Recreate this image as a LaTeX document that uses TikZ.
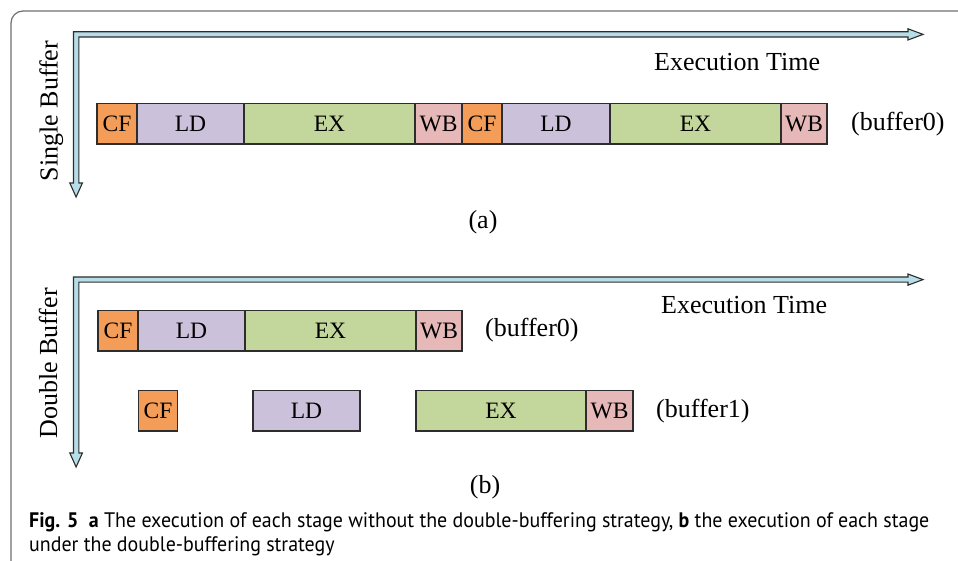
\documentclass[tikz,border=0pt]{standalone}
\usepackage{fontspec}
\setmainfont{Liberation Serif}
\newfontfamily\capfont[FakeStretch=0.95]{PT Sans}
\definecolor{cfcol}{RGB}{244,157,88}
\definecolor{ldcol}{RGB}{204,193,218}
\definecolor{excol}{RGB}{195,214,155}
\definecolor{wbcol}{RGB}{230,185,184}
\definecolor{axcol}{RGB}{183,222,232}
\definecolor{edgecol}{RGB}{45,45,45}
\definecolor{framecol}{RGB}{110,110,110}
\tikzset{
  stagebox/.style={draw=edgecol, line width=1.1pt, inner sep=0pt, outer sep=0pt, anchor=north west,
    minimum height=40.5pt, font=\fontsize{23.5}{25}\selectfont},
  cf/.style={stagebox, fill=cfcol},
  ld/.style={stagebox, fill=ldcol},
  ex/.style={stagebox, fill=excol},
  wb/.style={stagebox, fill=wbcol},
  axisarrow/.style={draw=edgecol, fill=axcol, line width=1.1pt, line join=miter},
  lbl/.style={inner sep=0pt, font=\fontsize{26}{28}\selectfont},
  capline/.style={inner sep=0pt, anchor=base west, font=\capfont\fontsize{21}{24}\selectfont},
}
\begin{document}
\begin{tikzpicture}[x=1pt,y=-1pt]
\useasboundingbox (0,0) rectangle (958,561);
% outer frame
\draw[framecol, line width=1.2pt, rounded corners=12pt] (11,561) -- (11,11) -- (958,11);

% ---------- (a) single buffer ----------
\draw[axisarrow] (73.5,31.8) -- (908,31.8) -- (908,28.8) -- (923,34.4) -- (908,40) -- (908,37)
  -- (78.8,37) -- (78.8,183) -- (82.4,183) -- (76.1,197) -- (69.8,183) -- (73.5,183) -- cycle;
\node[lbl, rotate=90, anchor=base] (sb) at (57.5,111) {Single Buffer};
\node[lbl, anchor=base west] (eta) at (654,71) {Execution Time};

\node[cf, minimum width=40pt]  (a1) at (97,103.5) {CF};
\node[ld, minimum width=107pt] (a2) at (a1.north east) {LD};
\node[ex, minimum width=171pt] (a3) at (a2.north east) {EX};
\node[wb, minimum width=47pt]  (a4) at (a3.north east) {WB};
\node[cf, minimum width=40pt]  (a5) at (a4.north east) {CF};
\node[ld, minimum width=108pt] (a6) at (a5.north east) {LD};
\node[ex, minimum width=171pt] (a7) at (a6.north east) {EX};
\node[wb, minimum width=46pt]  (a8) at (a7.north east) {WB};
\node[lbl, anchor=west] (ab0) at (851,124) {(buffer0)};
\node[lbl] (capa) at (483,222) {(a)};

% ---------- (b) double buffer ----------
\draw[axisarrow] (73.5,277) -- (908,277) -- (908,274) -- (923,279.6) -- (908,285.2) -- (908,282.2)
  -- (78.8,282.2) -- (78.8,453) -- (82.4,453) -- (76.1,467) -- (69.8,453) -- (73.5,453) -- cycle;
\node[lbl, rotate=90, anchor=base] (db) at (57,363.5) {Double Buffer};
\node[lbl, anchor=base west] (etb) at (661,313) {Execution Time};

\node[cf, minimum width=40pt]  (b1) at (98,310.5) {CF};
\node[ld, minimum width=107pt] (b2) at (b1.north east) {LD};
\node[ex, minimum width=171pt] (b3) at (b2.north east) {EX};
\node[wb, minimum width=46pt]  (b4) at (b3.north east) {WB};
\node[lbl, anchor=west] (bb0) at (485,330.5) {(buffer0)};

\node[cf, minimum width=39pt]  (c1) at (138.5,390.5) {CF};
\node[ld, minimum width=107pt] (c2) at (253,390.5) {LD};
\node[ex, minimum width=170pt] (c3) at (416,390.5) {EX};
\node[wb, minimum width=47pt]  (c4) at (c3.north east) {WB};
\node[lbl, anchor=west] (bb1) at (656,411) {(buffer1)};
\node[lbl] (capb) at (485,487) {(b)};

% ---------- figure caption ----------
\node[capline] (cap1) at (29,527)
  {\textbf{Fig. 5}\hspace{0.5em}\textbf{a} The execution of each stage without the double-buffering strategy, \textbf{b} the execution of each stage};
\node[capline] (cap2) at (29,551)
  {under the double-buffering strategy};
\end{tikzpicture}
\end{document}
